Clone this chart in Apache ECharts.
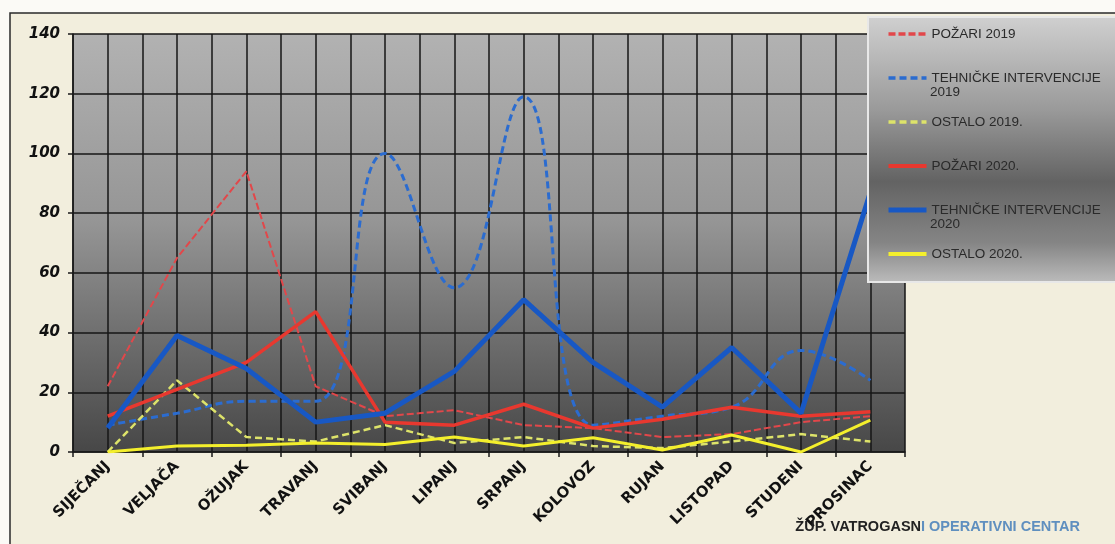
<!DOCTYPE html>
<html>
<head>
<meta charset="utf-8">
<script src="https://cdn.jsdelivr.net/npm/echarts@6/dist/echarts.min.js"></script>
<style>
html,body{margin:0;padding:0;background:#fbfaf6;}
#c{width:1115px;height:544px;}
</style>
</head>
<body>
<div id="c"></div>
<script>
const months = ['SIJEČANJ','VELJAČA','OŽUJAK','TRAVANJ','SVIBANJ','LIPANJ','SRPANJ','KOLOVOZ','RUJAN','LISTOPAD','STUDENI','PROSINAC'];
const yTicks = [0,20,40,60,80,100,120,140];
const pozari2019 = [22,65,94,22,12,14,9,8,5,6,10,12];
const tehnicke2019 = [9,13,17,17,100,55,119,9,12,15,34,24];
const ostalo2019 = [0,24,5,3.5,9,3,5,2,1.3,3.5,6,3.5];
const pozari2020 = [12,21,30,47,10,9,16,8,11,15,12,13.5];
const tehnicke2020 = [8,39,28,10,13,27,51,30,15,35,13,87];
const ostalo2020 = [0,2,2.3,3,2.5,5,2,4.8,0.7,5.7,0,10.7];

const chart = echarts.init(document.getElementById('c'), null, {renderer:'canvas'});
const mk = (name, data, color, width, dash, smooth, z) => ({
  name, type:'line', data, symbol:'none', smooth: smooth ? 0.45 : false,
  xAxisIndex:0, yAxisIndex:0, z: z,
  lineStyle:{color, width, type: dash ? dash : 'solid', cap:'butt'},
  itemStyle:{color}
});
const legendNames = ['POŽARI 2019','TEHNIČKE INTERVENCIJE 2019','OSTALO 2019.','POŽARI 2020.','TEHNIČKE INTERVENCIJE 2020','OSTALO 2020.'];
const legendWidths = [3.5,3.5,3.5,4,5,4];
chart.setOption({
  animation:false,
  backgroundColor:'transparent',
  graphic:[
    {type:'rect', z:-10, silent:true, shape:{x:10,y:13,width:1110,height:540},
     style:{fill:'#f2eedd', stroke:'#2a2a2a', lineWidth:1.5}},
    {type:'rect', z:100, silent:true, shape:{x:868,y:17,width:250,height:265},
     style:{fill:new echarts.graphic.LinearGradient(0,0,0,1,[
       {offset:0,color:'#d0d0d0'},{offset:0.35,color:'#9a9a9a'},{offset:0.62,color:'#636363'},
       {offset:0.85,color:'#858585'},{offset:1,color:'#bcbcbc'}]),
       stroke:'#e8e8e8', lineWidth:2}},
    {type:'text', z:110, silent:true, style:{x:930,y:92,text:'2019',fill:'#2a2a2a',font:'13.5px "Liberation Sans"',textVerticalAlign:'middle'}},
    {type:'text', z:110, silent:true, style:{x:930,y:224,text:'2020',fill:'#2a2a2a',font:'13.5px "Liberation Sans"',textVerticalAlign:'middle'}},
    {type:'text', z:110, silent:true, style:{x:1080,y:527,
      text:'{a|ŽUP. VATROGASN}{b|I OPERATIVNI CENTAR}', textAlign:'right', textVerticalAlign:'middle',
      rich:{a:{fill:'#222',font:'bold 14.5px "Liberation Sans"'},b:{fill:'#5f8fbf',font:'bold 14.5px "Liberation Sans"'}}}}
  ],
  legend:{
    orient:'vertical', left:881, top:22, itemWidth:38, itemHeight:14, itemGap:30, z:120,
    selectedMode:false,
    itemStyle:{opacity:0},
    textStyle:{color:'#2a2a2a', fontSize:13.5, fontFamily:'Liberation Sans', lineHeight:14},
    formatter: n => n.replace(/^(TEHNIČKE INTERVENCIJE) \d{4}$/, '$1'),
    data: legendNames.map((n,i) => ({name:n, lineStyle:{width:legendWidths[i]}}))
  },
  grid:{left:73, top:34, right:210, bottom:92, show:true, borderWidth:0,
    backgroundColor:new echarts.graphic.LinearGradient(0,0,0,1,[
      {offset:0,color:'#b2b2b2'},{offset:0.45,color:'#959595'},{offset:1,color:'#474747'}])},
  xAxis:[
    {type:'category', data:months, boundaryGap:true,
     axisLine:{lineStyle:{color:'#1a1a1a', width:1.5}},
     axisTick:{show:true, length:5, lineStyle:{color:'#1a1a1a', width:1.5}},
     splitLine:{show:false},
     axisLabel:{rotate:45, margin:12, color:'#111', fontFamily:'DejaVu Sans', fontWeight:'bold', fontSize:15}},
    {type:'value', min:0, max:24, interval:1, position:'bottom',
     axisLine:{show:false}, axisTick:{show:false}, axisLabel:{show:false},
     splitLine:{show:true, lineStyle:{color:'#161616', width:1.5}}}
  ],
  yAxis:{type:'value', min:0, max:140, interval:20,
    axisLine:{show:true, lineStyle:{color:'#1a1a1a', width:1.5}},
    axisTick:{show:true, length:5, lineStyle:{color:'#1a1a1a', width:1.5}},
    splitLine:{show:true, lineStyle:{color:'#161616', width:1.5}},
    axisLabel:{margin:13, color:'#111', fontFamily:'DejaVu Sans', fontWeight:'bold', fontStyle:'italic', fontSize:15,
      formatter: v => yTicks.includes(v) ? String(v) : ''}},
  series:[
    mk('POŽARI 2019', pozari2019, '#e2474a', 2, [7,3], false, 3),
    mk('TEHNIČKE INTERVENCIJE 2019', tehnicke2019, '#2b6cd0', 3, [7,4], true, 3),
    mk('OSTALO 2019.', ostalo2019, '#dde36a', 2.5, [7,4], false, 3),
    mk('POŽARI 2020.', pozari2020, '#e8382f', 3.5, null, false, 4),
    mk('TEHNIČKE INTERVENCIJE 2020', tehnicke2020, '#1858c4', 5, null, false, 4),
    mk('OSTALO 2020.', ostalo2020, '#f4ef2c', 3, null, false, 4)
  ]
});
</script>
</body>
</html>
